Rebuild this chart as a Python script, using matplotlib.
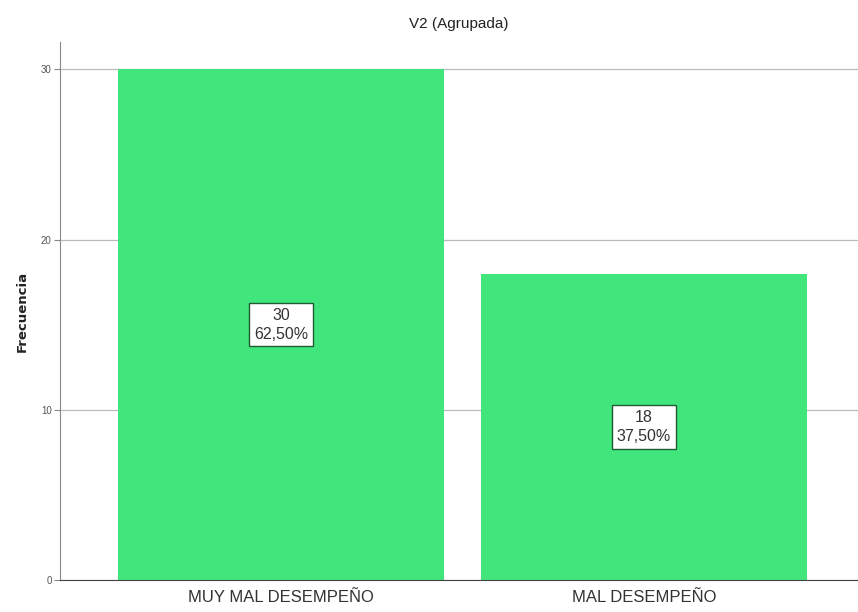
import matplotlib
matplotlib.use("Agg")
import matplotlib.pyplot as plt

categorias = ["MUY MAL DESEMPEÑO", "MAL DESEMPEÑO"]
frecuencias = [30, 18]
porcentajes = ["62,50%", "37,50%"]
marcas_y = [0, 10, 20, 30]

plt.rcParams['font.family'] = ['Liberation Sans Narrow', 'Liberation Sans', 'DejaVu Sans']

fig = plt.figure(figsize=(8.58, 6.12), dpi=100)
ax = fig.add_axes([0.07, 0.052, 0.93, 0.879])

x = list(range(len(categorias)))
ax.bar(x, frecuencias, width=0.898, color='#40e67c', zorder=2)

for xi, f, p in zip(x, frecuencias, porcentajes):
    ax.text(xi, f / 2, "%d\n%s" % (f, p), ha='center', va='center',
            fontsize=11.5, color='#333333', linespacing=1.3, zorder=3,
            bbox=dict(boxstyle='square,pad=0.3', fc='white', ec='#1f5a32', lw=1.0))

ax.set_xlim(-0.609, 1.59)
ax.set_ylim(0, 31.6)
ax.set_yticks(marcas_y)
ax.set_yticklabels([str(v) for v in marcas_y], fontsize=7, color='#555555')
ax.set_xticks(x)
ax.set_xticklabels(categorias, fontsize=12, color='#333333')
ax.tick_params(axis='x', length=0, pad=7)
ax.tick_params(axis='y', length=4, width=0.8, color='#888888', pad=2)

ax.yaxis.grid(True, color='#bbbbbb', lw=0.9, zorder=1)
ax.spines['top'].set_visible(False)
ax.spines['right'].set_visible(False)
ax.spines['left'].set_color('#888888')
ax.spines['bottom'].set_color('#444444')

ax.set_ylabel("Frecuencia", family=['DejaVu Sans'], fontsize=9.5, fontweight='bold',
              color='#222222', labelpad=9)
ax.set_title("V2 (Agrupada)", fontsize=11, color='#222222', pad=10)

fig.savefig("out.png", dpi=100)
